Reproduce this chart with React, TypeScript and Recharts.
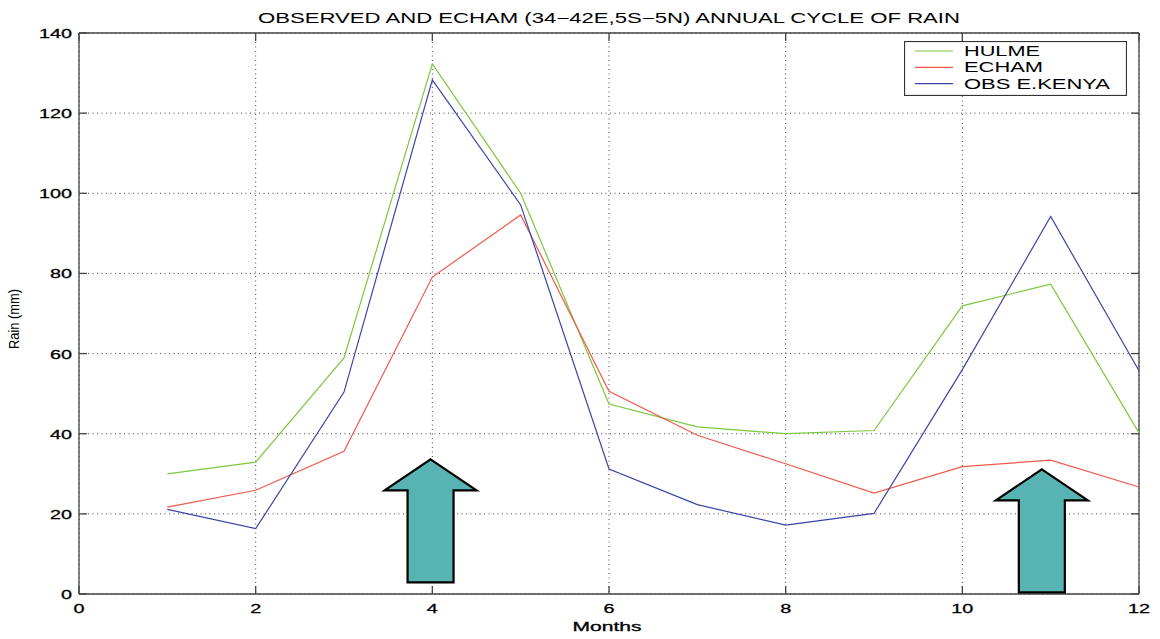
import React from 'react';
import {
  LineChart, Line, XAxis, YAxis, CartesianGrid, Legend, ReferenceLine, ReferenceDot,
} from 'recharts';

const months = [1, 2, 3, 4, 5, 6, 7, 8, 9, 10, 11, 12];
const hulme = [30.0, 32.9, 58.9, 132.3, 100.0, 47.4, 41.7, 40.0, 40.8, 71.9, 77.3, 40.2];
const echam = [21.7, 25.9, 35.6, 79.1, 94.6, 50.6, 39.6, 32.5, 25.2, 31.8, 33.4, 26.7];
const obsKenya = [21.1, 16.3, 50.4, 128.3, 97.1, 31.2, 22.3, 17.2, 20.1, 56.0, 94.2, 55.7];

const seriesNames = ['HULME', 'ECHAM', 'OBS E.KENYA'];
const xTicks = [0, 2, 4, 6, 8, 10, 12];
const yTicks = [0, 20, 40, 60, 80, 100, 120, 140];

// arrow annotations (tip position in data units)
const arrowTips = [
  { month: 3.98, rain: 33.6 },
  { month: 10.9, rain: 31.1 },
];

const data = months.map((m, i) => ({
  month: m,
  hulme: hulme[i],
  echam: echam[i],
  obs: obsKenya[i],
}));

const W = 1160;
const H = 639;
const PLOT_LEFT = 79;
const PLOT_RIGHT = 1139;
const PLOT_TOP = 33;
const FONT = '"Liberation Sans", Arial, Helvetica, sans-serif';
const AXIS = '#444';

const XTick = (props: any) => {
  const { x, y, payload } = props;
  const label = String(payload.value);
  return (
    <g>
      <line x1={x} y1={y} x2={x} y2={y - 8} stroke={AXIS} strokeWidth={1.3} />
      <line x1={x} y1={PLOT_TOP} x2={x} y2={PLOT_TOP + 8} stroke={AXIS} strokeWidth={1.3} />
      <text x={x} y={y + 19} textAnchor="middle" fontSize={13} fontFamily={FONT} fill="#000"
        stroke="#000" strokeWidth={0.3}
        textLength={label.length * 11} lengthAdjust="spacingAndGlyphs">{label}</text>
    </g>
  );
};

const YTick = (props: any) => {
  const { x, y, payload } = props;
  const label = String(payload.value);
  return (
    <g>
      <line x1={x} y1={y} x2={x + 8} y2={y} stroke={AXIS} strokeWidth={1.3} />
      <line x1={PLOT_RIGHT} y1={y} x2={PLOT_RIGHT - 8} y2={y} stroke={AXIS} strokeWidth={1.3} />
      <text x={x - 7} y={y + 5} textAnchor="end" fontSize={13} fontFamily={FONT} fill="#000"
        stroke="#000" strokeWidth={0.3}
        textLength={label.length * 11} lengthAdjust="spacingAndGlyphs">{label}</text>
    </g>
  );
};

const Arrow = (props: any) => {
  const { cx, cy } = props;
  const pts = [
    [0, 0], [46, 31], [23, 31], [23, 123], [-23, 123], [-23, 31], [-46, 31],
  ].map(([dx, dy]) => `${cx + dx},${cy + dy}`).join(' ');
  return <polygon points={pts} fill="#58b4b2" stroke="#000" strokeWidth={2.2} strokeLinejoin="miter" />;
};

const legendWidths: Record<string, number> = { HULME: 76, ECHAM: 79, 'OBS E.KENYA': 146 };

const LegendBox = (props: any) => {
  const items = [...(props.payload || [])].sort(
    (a: any, b: any) => seriesNames.indexOf(a.value) - seriesNames.indexOf(b.value)
  );
  return (
    <svg width={223} height={55} style={{ display: 'block' }}>
      <rect x={0.5} y={0.5} width={222} height={54} fill="#fff" stroke="#333" strokeWidth={1.2} />
      {items.map((it: any, i: number) => {
        const cy = 10 + i * 16.3;
        return (
          <g key={it.value}>
            <line x1={11} y1={cy} x2={49} y2={cy} stroke={it.color} strokeWidth={1.2} />
            <text x={60} y={cy + 5} fontSize={14} fontFamily={FONT} fill="#000"
              textLength={legendWidths[it.value] || undefined} lengthAdjust="spacingAndGlyphs">{it.value}</text>
          </g>
        );
      })}
    </svg>
  );
};

export default function App() {
  return (
    <div style={{ position: 'absolute', left: 0, top: 0, width: W, height: H, background: '#fff' }}>
      <LineChart width={W} height={H} data={data} margin={{ top: PLOT_TOP, right: W - PLOT_RIGHT, bottom: 0, left: 0 }}>
        <CartesianGrid stroke="#444" strokeDasharray="1 3.5" />
        <XAxis dataKey="month" type="number" domain={[0, 12]} ticks={xTicks} interval={0}
          height={45} tickSize={0} tickMargin={0} tickLine={false} tick={<XTick />}
          axisLine={{ stroke: AXIS, strokeWidth: 1.3 }} />
        <YAxis type="number" domain={[0, 140]} ticks={yTicks} interval={0}
          width={PLOT_LEFT} tickSize={0} tickMargin={0} tickLine={false} tick={<YTick />}
          axisLine={{ stroke: AXIS, strokeWidth: 1.3 }} />
        <ReferenceLine y={140} stroke={AXIS} strokeWidth={1.3} />
        <ReferenceLine x={12} stroke={AXIS} strokeWidth={1.3} />
        <Line type="linear" dataKey="hulme" name={seriesNames[0]} stroke="#7cc83e" strokeWidth={1.2} dot={false} isAnimationActive={false} />
        <Line type="linear" dataKey="echam" name={seriesNames[1]} stroke="#f0594a" strokeWidth={1.2} dot={false} isAnimationActive={false} />
        <Line type="linear" dataKey="obs" name={seriesNames[2]} stroke="#3a45a3" strokeWidth={1.2} dot={false} isAnimationActive={false} />
        {arrowTips.map((a, i) => (
          <ReferenceDot key={i} x={a.month} y={a.rain} r={0} shape={<Arrow />} />
        ))}
        <Legend layout="vertical" align="center" verticalAlign="middle" content={<LegendBox />}
          wrapperStyle={{ left: 904, top: 41, width: 223, height: 55 }} />
      </LineChart>
      <svg width={W} height={H} style={{ position: 'absolute', left: 0, top: 0, pointerEvents: 'none' }}>
        <text x={609} y={22.5} textAnchor="middle" fontSize={14} fontFamily={FONT} fill="#000"
          textLength={702} lengthAdjust="spacingAndGlyphs">OBSERVED AND ECHAM (34−42E,5S−5N) ANNUAL CYCLE OF RAIN</text>
        <text x={607} y={631} textAnchor="middle" fontSize={13} fontFamily={FONT} fill="#000"
          stroke="#000" strokeWidth={0.3}
          textLength={69} lengthAdjust="spacingAndGlyphs">Months</text>
        <text x={0} y={0} transform="translate(19,319) rotate(-90)" textAnchor="middle" fontSize={14}
          fontFamily={FONT} fill="#000" textLength={60} lengthAdjust="spacingAndGlyphs">Rain (mm)</text>
      </svg>
    </div>
  );
}
